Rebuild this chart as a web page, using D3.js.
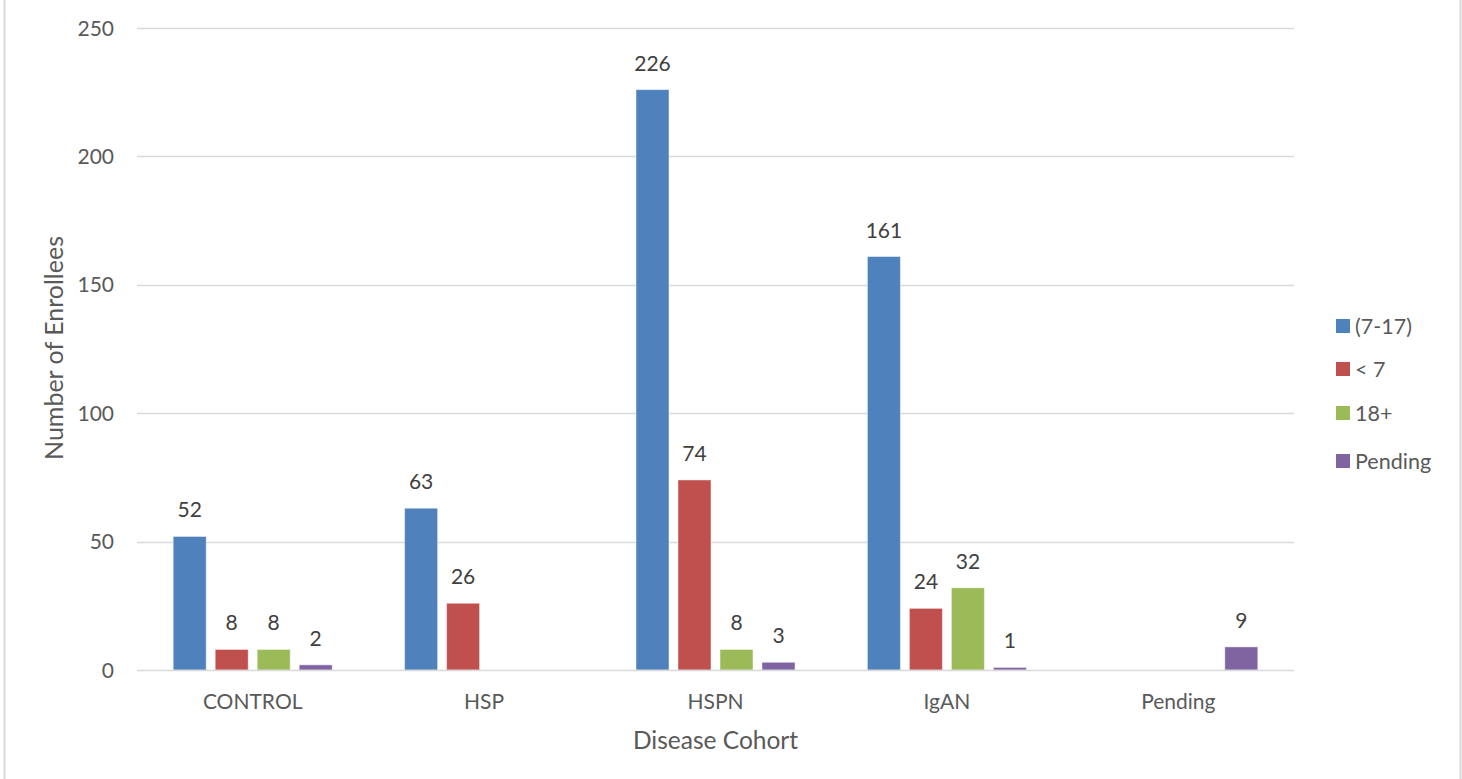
<!DOCTYPE html>
<html>
<head>
<meta charset="utf-8">
<script src="https://cdn.jsdelivr.net/npm/d3@7"></script>
<style>
  html, body { margin: 0; padding: 0; background: #fff; }
  svg { display: block; font-family: Lato, "Open Sans", sans-serif; }
</style>
</head>
<body>
<svg id="chart" width="1462" height="779"></svg>
<script>
const categories = ["CONTROL", "HSP", "HSPN", "IgAN", "Pending"];
const seriesNames = ["(7-17)", "< 7", "18+", "Pending"];
const seriesColors = ["#4F81BD", "#C0504D", "#9BBB59", "#8064A2"];
const values_7_17 = [52, 63, 226, 161, null];
const values_lt7 = [8, 26, 74, 24, null];
const values_18plus = [8, null, 8, 32, null];
const values_pending = [2, null, 3, 1, 9];
const yTicks = [0, 50, 100, 150, 200, 250];
const xTitle = "Disease Cohort";
const yTitle = "Number of Enrollees";

const seriesValues = [values_7_17, values_lt7, values_18plus, values_pending];

const svg = d3.select("#chart");
const W = 1462, H = 779;
const plot = { left: 137, right: 1294, top: 28, bottom: 670 };

// frame lines
svg.append("line").attr("x1", 4.5).attr("x2", 4.5).attr("y1", 0).attr("y2", H)
  .attr("stroke", "#D9D9D9").attr("stroke-width", 2);
svg.append("line").attr("x1", 1460.5).attr("x2", 1460.5).attr("y1", 0).attr("y2", H)
  .attr("stroke", "#D9D9D9").attr("stroke-width", 2);

const x0 = d3.scaleBand().domain(categories).range([plot.left, plot.right]);
const groupW = 159;
const off = (x0.bandwidth() - groupW) / 2;
const x1 = d3.scaleBand().domain(seriesNames).range([off, off + groupW]).paddingInner(9 / 42);
const y = d3.scaleLinear().domain([0, 250]).range([plot.bottom, plot.top]);

// gridlines
svg.append("g").selectAll("line").data(yTicks.filter(t => t > 0)).join("line")
  .attr("x1", plot.left).attr("x2", plot.right)
  .attr("y1", d => Math.round(y(d)) + 0.5).attr("y2", d => Math.round(y(d)) + 0.5)
  .attr("stroke", "#D9D9D9").attr("stroke-width", 1.5);

// y tick labels
svg.append("g").selectAll("text").data(yTicks).join("text")
  .attr("x", 114).attr("y", d => y(d) + 7.5)
  .attr("text-anchor", "end")
  .attr("font-size", 21).attr("fill", "#595959")
  .text(d => d);

// bars
const data = [];
categories.forEach((c, ci) => {
  seriesNames.forEach((s, si) => {
    const v = seriesValues[si][ci];
    if (v !== null && v !== undefined) data.push({ c, s, si, v });
  });
});

const gBars = svg.append("g");
gBars.selectAll("rect").data(data).join("rect")
  .attr("x", d => x0(d.c) + x1(d.s))
  .attr("y", d => y(d.v))
  .attr("width", x1.bandwidth())
  .attr("height", d => y(0) - y(d.v))
  .attr("fill", d => seriesColors[d.si])
  .attr("stroke", "#ffffff").attr("stroke-opacity", 0.45).attr("stroke-width", 1);

// x axis baseline
svg.append("line").attr("x1", plot.left).attr("x2", plot.right)
  .attr("y1", y(0) + 0.5).attr("y2", y(0) + 0.5)
  .attr("stroke", "#D9D9D9").attr("stroke-width", 1.5);

// data labels
gBars.selectAll("text").data(data).join("text")
  .attr("x", d => x0(d.c) + x1(d.s) + x1.bandwidth() / 2)
  .attr("y", d => y(d.v) - 19)
  .attr("text-anchor", "middle")
  .attr("font-size", 21).attr("fill", "#404040")
  .text(d => d.v);

// category labels
svg.append("g").selectAll("text").data(categories).join("text")
  .attr("x", d => x0(d) + x0.bandwidth() / 2)
  .attr("y", 709)
  .attr("text-anchor", "middle")
  .attr("font-size", 21).attr("fill", "#595959")
  .text(d => d);

// axis titles
svg.append("text").attr("x", (plot.left + plot.right) / 2).attr("y", 749)
  .attr("text-anchor", "middle").attr("font-size", 24.5).attr("fill", "#595959")
  .text(xTitle);
svg.append("text").attr("transform", "translate(63,348) rotate(-90)")
  .attr("text-anchor", "middle").attr("font-size", 25).attr("fill", "#595959")
  .text(yTitle);

// legend
const legendY = [326, 369, 413, 461];
const lg = svg.append("g").selectAll("g").data(seriesNames).join("g")
  .attr("transform", (d, i) => `translate(1336,${legendY[i]})`);
lg.append("rect").attr("x", 0).attr("y", -7).attr("width", 14).attr("height", 14)
  .attr("fill", (d, i) => seriesColors[i]);
lg.append("text").attr("x", 19).attr("y", 7.5).attr("font-size", 21.5).attr("fill", "#595959")
  .text(d => d);
</script>
</body>
</html>
